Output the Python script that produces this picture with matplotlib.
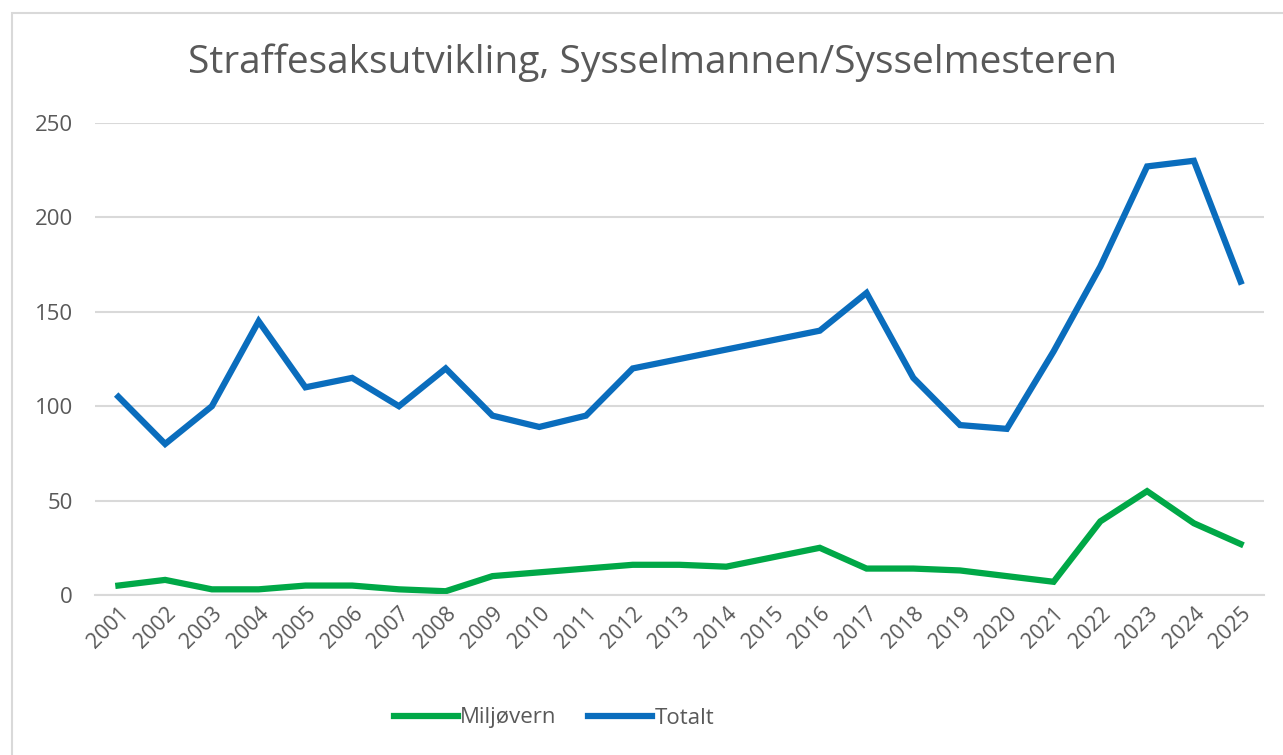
import matplotlib.pyplot as plt
from matplotlib.patches import Rectangle

# data
years = list(range(2001, 2026))
miljovern = [5, 8, 3, 3, 5, 5, 3, 2, 10, 12, 14, 16, 16, 15, 20, 25, 14, 14, 13, 10, 7, 39, 55, 38, 27]
totalt = [105, 80, 100, 145, 110, 115, 100, 120, 95, 89, 95, 120, 125, 130, 135, 140, 160, 115, 90, 88, 129, 174, 227, 230, 166]
y_ticks = [0, 50, 100, 150, 200, 250]

W, H = 1283, 755
fig = plt.figure(figsize=(W / 100, H / 100), dpi=100)
plt.rcParams['font.family'] = ['Open Sans', 'DejaVu Sans']
txt = '#595959'

# light chart border (cut off at right/bottom as in the screenshot)
fig.patches.append(Rectangle((12 / W, -0.05), 1.1, 1 - 13 / H + 0.05, transform=fig.transFigure,
                             fill=False, edgecolor='#D9D9D9', linewidth=1.5))

ax = fig.add_axes([95 / W, 1 - 595 / H, (1264 - 95) / W, (595 - 123) / H])
ax.plot(years, miljovern, color='#00A847', linewidth=4.5, label='Miljøvern', solid_joinstyle='miter')
ax.plot(years, totalt, color='#0A6DBD', linewidth=4.5, label='Totalt', solid_joinstyle='miter')

ax.set_xlim(2000.5, 2025.5)
ax.set_ylim(0, 250)
ax.set_yticks(y_ticks)
ax.set_xticks(years)
ax.set_xticklabels([str(y) for y in years], rotation=45, ha='right', rotation_mode='anchor')
ax.tick_params(axis='both', length=0, colors=txt)
ax.tick_params(axis='y', pad=16, labelsize=16)
ax.tick_params(axis='x', pad=6, labelsize=15.5)
ax.grid(axis='y', color='#D9D9D9', linewidth=1.5)
ax.set_axisbelow(True)
for s in ax.spines.values():
    s.set_visible(False)
ax.spines['bottom'].set_visible(True)
ax.spines['bottom'].set_color('#D9D9D9')
ax.spines['bottom'].set_linewidth(1.5)

fig.text(652 / W, 1 - 63 / H, 'Straffesaksutvikling, Sysselmannen/Sysselmesteren',
         ha='center', va='center', fontsize=28, color=txt)

leg = fig.legend(loc='center', bbox_to_anchor=(554 / W, 1 - 718 / H), ncol=2, frameon=False,
                 fontsize=16, handlelength=2.9, handletextpad=0.1, columnspacing=1.4)
for t in leg.get_texts():
    t.set_color(txt)

fig.savefig('out.png', dpi=100)
